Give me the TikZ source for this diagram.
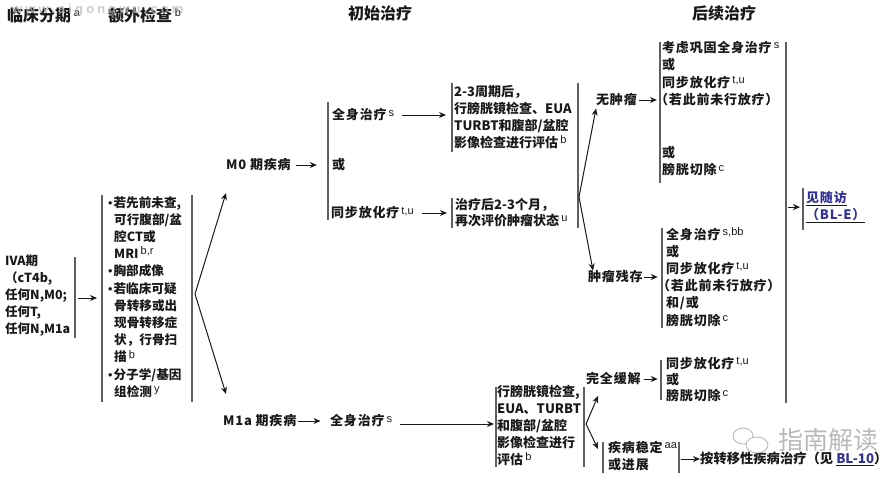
\documentclass[tikz,border=0pt]{standalone}
\usepackage{fontspec}
\setmainfont{Noto Sans CJK SC}
\newfontfamily\latinsf{Liberation Sans}
\usetikzlibrary{positioning,arrows.meta}
\definecolor{guideGray}{RGB}{95,95,95}
\definecolor{guideInk}{RGB}{25,25,25}
\definecolor{guideLink}{RGB}{50,50,150}
\definecolor{guideMark}{RGB}{185,185,185}
\newcommand{\supnote}[1]{\,\raisebox{0.55ex}{\latinsf\fontsize{11}{11}\selectfont\mdseries #1}}
\newcommand{\guidelink}[1]{\underline{\textcolor{guideLink}{#1}}}
\newcommand{\dotitem}{{\latinsf\mdseries •}\hspace{1pt}}
\newcommand{\itemgap}{\hspace*{6pt}}
\tikzset{
  txt/.style={anchor=north west, inner sep=0pt, align=left, text=guideInk, font=\fontsize{13}{17.2}\selectfont\bfseries\addfontfeature{LetterSpace=6}},
  head/.style={anchor=west, inner sep=0pt, text=guideInk, font=\fontsize{16}{18}\selectfont\bfseries},
  bar/.style={draw=guideGray, line width=1.2pt},
  arr/.style={-{Stealth[length=7pt,width=6pt]}, draw=guideInk, line width=1pt}
}
\begin{document}
\begin{tikzpicture}[x=1pt,y=-1pt]
  \useasboundingbox (0,0) rectangle (891,479);
  % Column headings
  \node[head] (hStage) at (7,15) {临床分期\supnote{a}};
  \node[head] (hExam) at (108,15) {额外检查\supnote{b}};
  \node[head] (hFirst) at (348,13) {初始治疗};
  \node[head] (hNext) at (692,13) {后续治疗};
  \node[anchor=west, inner sep=0pt, text=guideMark, text opacity=0.75, font=\latinsf\bfseries\fontsize{13}{13}\selectfont\addfontfeature{LetterSpace=24}] (mark) at (12,10) {www.aigongwu.com};

  % Stage and workup
  \node[txt, font=\fontsize{12.5}{17}\selectfont\bfseries] (stage) at (5,255) {IVA期\\（cT4b,\\任何N,M0;\\任何T,\\任何N,M1a};
  \node[txt, font=\fontsize{12.6}{17.2}\selectfont\bfseries] (exam) at (108,196) {\dotitem 若先前未查,\\\itemgap 可行腹部/盆\\\itemgap 腔CT或\\\itemgap MRI\supnote{b,r}\\\dotitem 胸部成像\\\dotitem 若临床可疑\\\itemgap 骨转移或出\\\itemgap 现骨转移症\\\itemgap 状，行骨扫\\\itemgap 描\supnote{b}\\\dotitem 分子学/基因\\\itemgap 组检测\supnote{y}};
  \coordinate (stageOut) at (78,298);
  \coordinate (examIn) at (97,298);
  \coordinate (fork) at (195,294);
  \node[txt, anchor=west] (m0) at (226,165) {M0 期疾病};
  \node[txt, anchor=west] (m1a) at (223,421) {M1a 期疾病};
  \coordinate (m0In) at (226,193);
  \coordinate (m1aIn) at (226,394);

  % M0 branch
  \node[txt, anchor=west] (sys) at (332,115) {全身治疗\supnote{s}};
  \node[txt, anchor=west] (orA) at (332,165) {或};
  \node[txt, anchor=west] (chemo) at (331,213) {同步放化疗\supnote{t,u}};
  \node[txt, font=\fontsize{13}{17}\selectfont\bfseries] (eval) at (454,85) {2-3周期后，\\行膀胱镜检查、EUA\\TURBT和腹部/盆腔\\影像检查进行评估\supnote{b}};
  \node[txt, font=\fontsize{13}{16}\selectfont\bfseries] (recheck) at (455,198) {治疗后2-3个月，\\再次评价肿瘤状态\supnote{u}};
  \coordinate (forkB) at (579,197);
  \node[txt, anchor=west] (clear) at (596,100) {无肿瘤};
  \node[txt, anchor=west] (resid) at (588,277) {肿瘤残存};
  \node[txt, font=\fontsize{13}{17.5}\selectfont\bfseries\addfontfeature{LetterSpace=6}] (planA) at (662,41) {考虑巩固全身治疗\supnote{s}\\或\\同步放化疗\supnote{t,u}\\\hspace*{-7pt}（若此前未行放疗）\\[35pt]或\\膀胱切除\supnote{c}};
  \node[txt] (planB) at (666,227) {全身治疗\supnote{s,bb}\\或\\同步放化疗\supnote{t,u}\\\hspace*{-9pt}（若此前未行放疗）\\和/或\\膀胱切除\supnote{c}};

  % M1a branch
  \node[txt, anchor=west] (sysB) at (330,421) {全身治疗\supnote{s}};
  \node[txt, font=\fontsize{13}{17}\selectfont\bfseries] (evalB) at (497,385) {行膀胱镜检查,\\EUA、TURBT\\和腹部/盆腔\\影像检查进行\\评估\supnote{b}};
  \coordinate (forkC) at (586,424);
  \node[txt, anchor=west] (cr) at (586,379) {完全缓解};
  \node[txt] (sd) at (608,441) {疾病稳定\supnote{aa}\\或进展};
  \node[txt, font=\fontsize{13}{16}\selectfont\bfseries\addfontfeature{LetterSpace=6}] (planC) at (666,357) {同步放化疗\supnote{t,u}\\或\\膀胱切除\supnote{c}};
  \node[txt, anchor=west, font=\fontsize{13.3}{17}\selectfont\bfseries] (meta) at (700,459) {按转移性疾病治疗（见 \guidelink{BL-10}）};
  \coordinate (sdOut) at (681,459);

  % Follow-up
  \node[txt] (follow) at (806,191) {\guidelink{见随访}\\\guidelink{（BL-E）}};

  % Corner mark
  \draw[guideMark, line width=0.9pt] (743,436) ellipse [x radius=10, y radius=8];
  \draw[guideMark, line width=0.9pt, fill=white] (757,445) ellipse [x radius=11, y radius=8];
  \node[anchor=west, inner sep=0pt, text=guideMark, font=\fontsize{25}{25}\selectfont] (corner) at (778,440) {指南解读};

  % Vertical bars
  \foreach \x/\a/\b in {75/257/338, 102/195/402, 192/195/402, 328/102/220, 452/83/152,
    452/198/228, 578/83/228, 660/42/183, 786/42/403, 803/188/230, 662/228/328,
    661/360/400, 496/387/467, 584/387/467, 603/442/473, 679/442/473}
    \draw[bar] (\x,\a) -- (\x,\b);

  % Connectors
  \draw[arr] (stageOut) -- (examIn);
  \draw (fork) edge[arr] (m0In) edge[arr] (m1aIn);
  \draw[arr] (m0.east) ++(5,0) -- ++(21,0);
  \draw[arr] (sys.east) ++(8,0) -- ([xshift=-8pt]sys.east -| eval.west);
  \draw[arr] (chemo.east) ++(8,0) -- ([xshift=-8pt]chemo.east -| recheck.west);
  \draw[arr] (forkB) -- ([yshift=-2pt]clear.south west);
  \draw[arr] (forkB) -- ([xshift=5pt]resid.north west);
  \draw[arr] (clear.east) ++(2,0) -- ++(18,0);
  \draw[arr] (resid.east) ++(1,0) -- ++(14,0);
  \draw[arr] (follow.west) ++(-18,0) -- ++(12,0);
  \draw[arr] (m1a.east) ++(2,0) -- ++(22,0);
  \draw[arr] (sysB.east) ++(8,3) -- ([xshift=-3pt]evalB.west |- 0,424);
  \draw[arr] (cr.east) ++(3,0) -- ++(14,0);
  \draw (forkC) edge[arr] (598,396) edge[arr] (598,449);
  \draw[arr] (sdOut) -- (meta.west);
\end{tikzpicture}
\end{document}
